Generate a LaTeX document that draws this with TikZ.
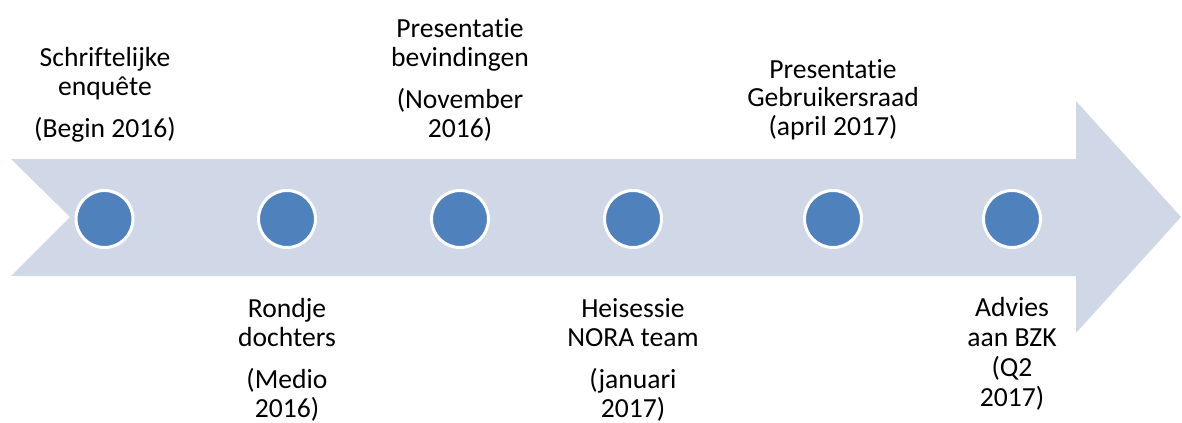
\documentclass[tikz,border=0pt]{standalone}
\usepackage{fontspec}
\setmainfont{Carlito}[Ligatures=NoCommon]
\definecolor{arrowfill}{HTML}{D0D8E8}
\definecolor{dotfill}{HTML}{4F81BD}
\newcommand{\labstack}[2][21.75pt]{\vtop{\baselineskip=#1\lineskiplimit=-100pt\lineskip=0pt\halign{\hfil##\hfil\cr#2\crcr}}}
\newcommand{\pgap}{\noalign{\vskip 10pt}}
\tikzset{
  dot/.style={circle, fill=dotfill, draw=white, line width=2.25pt, minimum size=42.75pt, inner sep=0pt},
  lab/.style={anchor=base, inner sep=0pt, text=black, font=\fontsize{20.7}{21.75}\selectfont},
  band/.style={fill=arrowfill, draw=none}
}
\begin{document}
\begin{tikzpicture}[x=0.75pt, y=-0.75pt]
\useasboundingbox (0,0) rectangle (1182,422);
\fill[band] (11,159) -- (1076,159) -- (1076,101) -- (1181,217) -- (1076,333) -- (1076,276) -- (11,276) -- (70,217) -- cycle;
\node[dot] (d1) at (104.5,219) {};
\node[dot] (d2) at (287,219) {};
\node[dot] (d3) at (460,219) {};
\node[dot] (d4) at (633,219) {};
\node[dot] (d5) at (833,219) {};
\node[dot] (d6) at (1012,219) {};
\node[lab] (t1) at (105,66) {\labstack{Schriftelijke\cr enquête\cr\pgap (Begin 2016)}};
\node[lab] (t2) at (460,37) {\labstack{Presentatie\cr bevindingen\cr\pgap (November\cr 2016)}};
\node[lab] (t3) at (833,78) {\labstack[21.4pt]{Presentatie\cr Gebruikersraad\cr (april 2017)}};
\node[lab] (b1) at (287,317) {\labstack{Rondje\cr dochters\cr\pgap (Medio\cr 2016)}};
\node[lab] (b2) at (633,317) {\labstack{Heisessie\cr NORA team\cr\pgap (januari\cr 2017)}};
\node[lab] (b3) at (1012,316) {\labstack[22.5pt]{Advies\cr aan BZK\cr (Q2\cr 2017)}};
\end{tikzpicture}
\end{document}
